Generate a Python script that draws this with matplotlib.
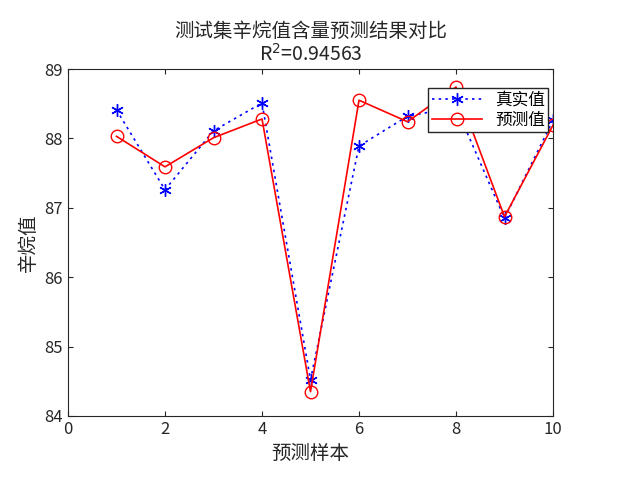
import numpy as np
import matplotlib.pyplot as plt

plt.rcParams['font.family'] = ['Noto Sans CJK SC', 'DejaVu Sans']

samples = np.arange(1, 11)
true_vals = [88.41, 87.26, 88.11, 88.51, 84.52, 87.89, 88.32, 88.45, 86.85, 88.26]
pred_vals = [88.03, 87.59, 88.01, 88.28, 84.35, 88.55, 88.24, 88.74, 86.87, 88.19]

fig = plt.figure(figsize=(6.18, 4.88), dpi=100)
ax = fig.add_axes([68 / 618, 1 - 416 / 488, (553 - 68) / 618, (416 - 69) / 488])
ax.plot(samples, true_vals, color='blue', ls=(0, (1.5, 2.5)), marker=(6, 2, 0), ms=9, lw=1.2, label='真实值')
ax.plot(samples, pred_vals, color='red', ls='-', marker='o', ms=9, mfc='none', lw=1.2, label='预测值')
ax.set_xlim(0, 10)
ax.set_ylim(84, 89)
ax.set_xticks(range(0, 11, 2))
for s in ax.spines.values():
    s.set_color('#262626')
ax.tick_params(direction='in', labelsize=12, top=True, right=True, colors='#262626')
ax.set_xlabel('预测样本', fontsize=14, color='#262626')
ax.set_ylabel('辛烷值', fontsize=14, color='#262626')
ax.set_title('测试集辛烷值含量预测结果对比\nR$^2$=0.94563', fontsize=14, color='#262626',
             linespacing=1.1)
leg = ax.legend(loc='upper right', bbox_to_anchor=(0.99, 0.945), fontsize=12, fancybox=False,
                edgecolor='#262626', framealpha=1, borderaxespad=0, handlelength=3,
                borderpad=0.2, labelspacing=0.2)
leg.set_zorder(5)
fig.savefig('out.png')
